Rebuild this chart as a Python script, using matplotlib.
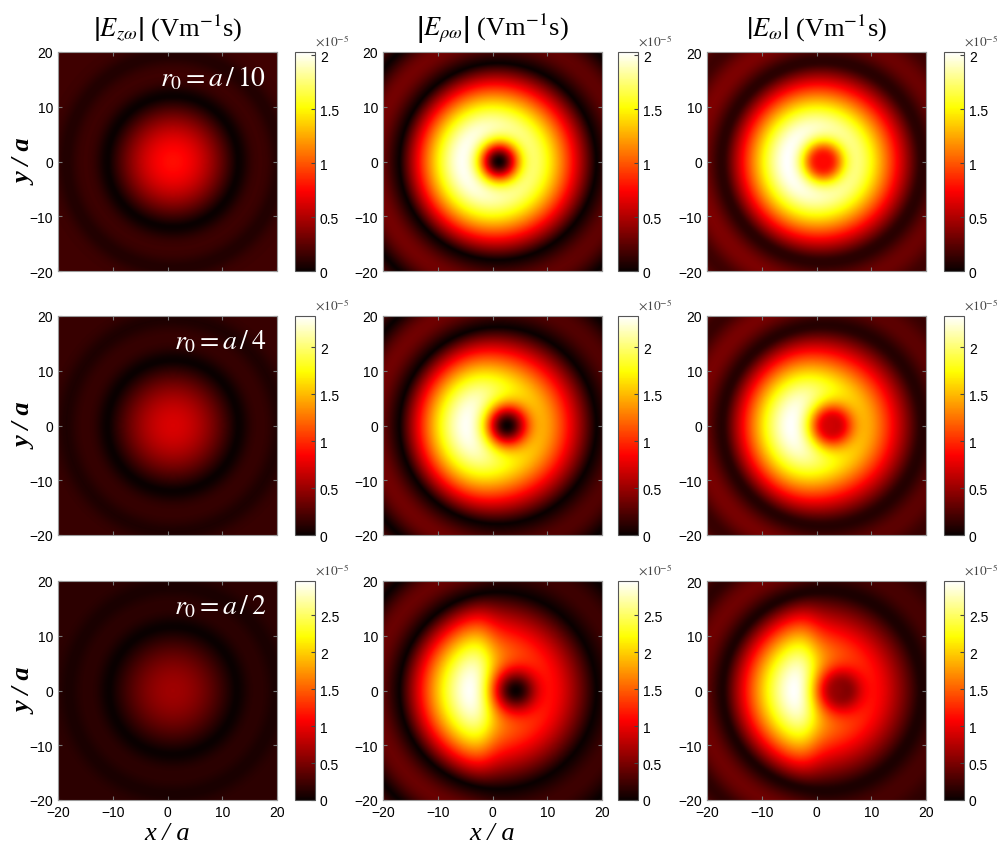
import numpy as np
import matplotlib.pyplot as plt

plt.rcParams['mathtext.fontset'] = 'stix'
plt.rcParams['font.family'] = ['Liberation Sans', 'DejaVu Sans']

# column titles and row annotations
col_titles = [r'$\left|E_{z\omega}\right|$ (Vm$^{-1}$s)',
              r'$\left|E_{\rho\omega}\right|$ (Vm$^{-1}$s)',
              r'$\left|E_{\omega}\right|$ (Vm$^{-1}$s)']
r0_labels = [r'$r_0 = a\,/\,10$', r'$r_0 = a\,/\,4$', r'$r_0 = a\,/\,2$']

# colour range per row (units of 1e-5)
vmax = [2.03, 2.33, 2.96]
cbar_ticks = [[0, 0.5, 1, 1.5, 2],
              [0, 0.5, 1, 1.5, 2],
              [0, 0.5, 1, 1.5, 2, 2.5]]
axis_ticks = [-20, -10, 0, 10, 20]

# E_z: central lobe, first dark ring, faint outer ring
ez_center = [0.78, 0.72, 0.66]
ez_ring = [0.16, 0.16, 0.16]
ez_zero_r = [11.8, 11.8, 11.5]
ez_second_r = [19.5, 19.5, 19.0]
field_cx = [1.0, 1.0, 1.0]

# E_rho: donut with dark hole shifted to +x, brighter on the left
rho_peak = [2.0, 2.3, 2.93]
rho_right = [0.80, 0.70, 0.55]
hole_x = [1.2, 2.7, 4.3]
hole_w = [4.0, 4.2, 4.3]
edge_x = [-1.0, -1.0, -1.0]
edge_w = [5.0, 3.5, 1.4]
rho_zero_r = [18.0, 18.0, 18.0]
rho_ring = [0.12, 0.12, 0.12]


def radial(r, r_zero, ring, period=8.0, p=1.0, q=1.0):
    inner = np.cos(np.clip(r / r_zero, 0, 1) * np.pi / 2) ** p
    outer = ring * np.abs(np.sin(np.pi * (r - r_zero) / period)) ** q
    return np.where(r < r_zero, inner, outer)


def ez_profile(r, r_zero, ring, r_second):
    # central lobe, clear dark ring, then a flat dim plateau with a soft second minimum
    inner = np.cos(np.clip(r / r_zero, 0, 1) * np.pi / 2) ** 1.1
    outer = ring * (1 - np.exp(-((r - r_zero) / 2.2) ** 2))
    outer = outer * (1 - 0.55 * np.exp(-((r - r_second) / 2.0) ** 2))
    return np.where(r < r_zero, inner, outer)


xs = np.linspace(-20, 20, 401)
X, Y = np.meshgrid(xs, xs)

W, H = 1007, 853
fig = plt.figure(figsize=(W / 100, H / 100), dpi=100)

col_left = [58, 383, 707]
cbar_left = [295, 618, 944]
row_top = [53, 317, 582]
ax_w, ax_h, cb_w = 219, 219, 20

for i in range(3):
    r = np.hypot(X - field_cx[i], Y)
    ez = ez_center[i] * ez_profile(r, ez_zero_r[i], ez_ring[i] / ez_center[i], ez_second_r[i])

    d = np.hypot(X - hole_x[i], Y)
    hole = 1 - np.exp(-(d / hole_w[i]) ** 2)
    env = radial(r, rho_zero_r[i], rho_ring[i], 9.0, 1.05, 1.2)
    asym = rho_right[i] + (1 - rho_right[i]) / (1 + np.exp((X - edge_x[i]) / edge_w[i]))
    erho = hole * env * asym
    erho = erho / erho.max() * rho_peak[i]

    etot = np.sqrt(erho ** 2 + ez ** 2)
    etot = etot / etot.max() * vmax[i] * 0.995

    for j, field in enumerate([ez, erho, etot]):
        ax = fig.add_axes([col_left[j] / W, 1 - (row_top[i] + ax_h) / H, ax_w / W, ax_h / H])
        im = ax.imshow(field, cmap='hot', vmin=0, vmax=vmax[i], origin='lower',
                       extent=[-20, 20, -20, 20], interpolation='bilinear')
        ax.set_xticks(axis_ticks)
        ax.set_yticks(axis_ticks)
        ax.tick_params(direction='in', length=3, color='#777777', labelsize=10,
                       top=True, right=True)
        for s in ax.spines.values():
            s.set_color('#9a9a9a')
        if i < 2:
            ax.set_xticklabels([])

        cax = fig.add_axes([cbar_left[j] / W, 1 - (row_top[i] + ax_h) / H, cb_w / W, ax_h / H])
        cb = fig.colorbar(im, cax=cax)
        cb.set_ticks(cbar_ticks[i])
        cb.set_ticklabels([f'{t:g}' for t in cbar_ticks[i]])
        cax.tick_params(direction='in', length=3, labelsize=10, color='#444444')
        cb.outline.set_edgecolor('#555555')
        cax.text(1.0, 1.015, r'$\times10^{-5}$', transform=cax.transAxes,
                 ha='left', va='bottom', fontsize=9.5, color='#444444')

        if j == 0:
            ax.text(0.95, 0.885, r0_labels[i], transform=ax.transAxes, color='white',
                    ha='right', va='center', fontsize=20)
            fig.text(25 / W, 1 - (row_top[i] + ax_h / 2) / H, 'y / a', rotation=90,
                     ha='center', va='center', fontsize=19, fontweight='bold',
                     fontstyle='italic', family='Liberation Serif')
        if i == 0:
            fig.text((col_left[j] + ax_w / 2) / W, 1 - 28 / H, col_titles[j],
                     ha='center', va='center', fontsize=19, family='Liberation Serif')
        if i == 2 and j < 2:
            fig.text((col_left[j] + ax_w / 2) / W, 1 - 834 / H, 'x / a',
                     ha='center', va='center', fontsize=19, fontstyle='italic',
                     family='Liberation Serif')

fig.savefig('out.png', dpi=100)
plt.close(fig)
